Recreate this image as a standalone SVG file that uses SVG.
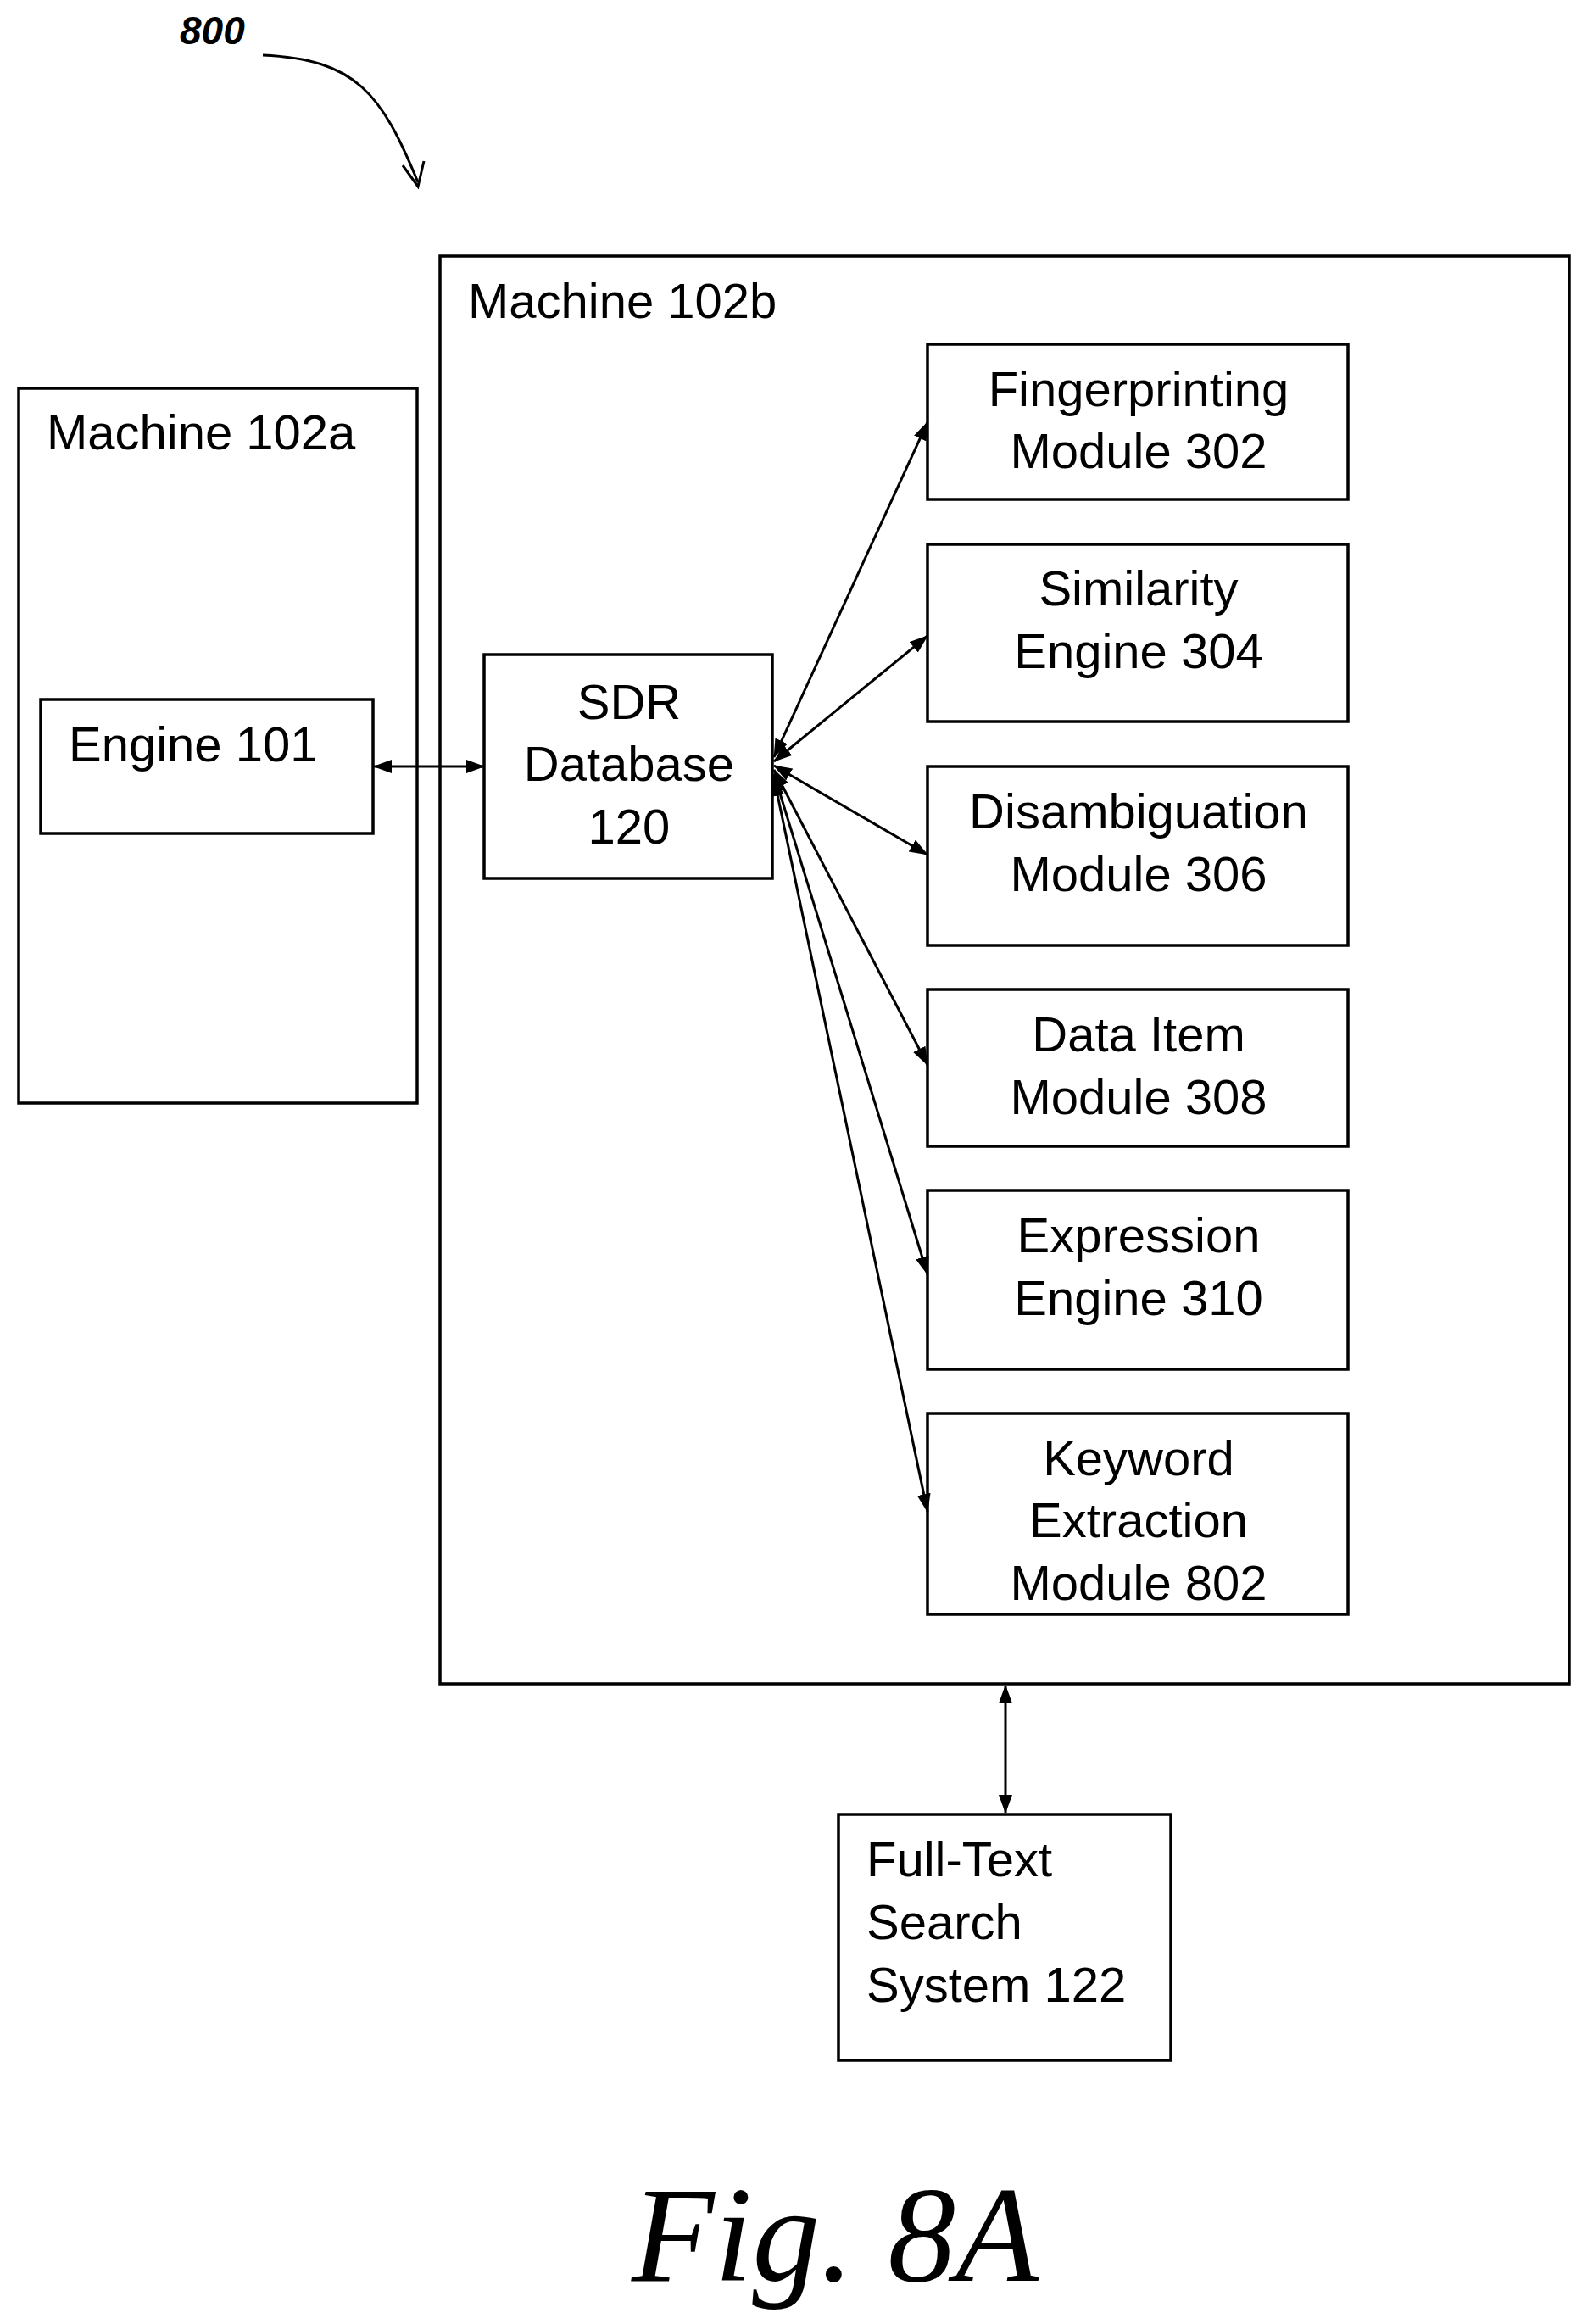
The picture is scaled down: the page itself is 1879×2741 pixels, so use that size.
<svg xmlns="http://www.w3.org/2000/svg" width="1879" height="2741" viewBox="0 0 1879 2741">
<style>
rect{fill:#fff;stroke:#000;stroke-width:3.5}
text{font-family:"Liberation Sans",Arial,sans-serif;font-size:58px;fill:#000}
.c{text-anchor:middle}
#connectors line{stroke:#000;stroke-width:3;marker-start:url(#a);marker-end:url(#a)}
</style>
<defs>
<marker id="a" viewBox="0 0 22 16" refX="21" refY="8" markerWidth="22" markerHeight="16" orient="auto-start-reverse" markerUnits="userSpaceOnUse">
<path d="M0,0 L22,8 L0,16 z" fill="#000"/>
</marker>
</defs>
<rect width="1879" height="2741" style="fill:#fff;stroke:none"/>
<g id="ref800">
<text x="212" y="52" style="font-family:'Liberation Sans',sans-serif;font-weight:bold;font-style:italic;font-size:46px">800</text>
<path d="M310,65 C420,70 450,110 493,215" fill="none" stroke="#000" stroke-width="3"/>
<path d="M475,195 L493,220 L500,190" fill="none" stroke="#000" stroke-width="3"/>
</g>
<g id="machine102b"><rect x="519" y="302" width="1332" height="1684"/><text x="552" y="375">Machine 102b</text></g>
<g id="machine102a"><rect x="22" y="458" width="470" height="843"/><text x="55" y="530">Machine 102a</text></g>
<g id="engine101"><rect x="48" y="825" width="392" height="158"/><text x="81" y="898">Engine 101</text></g>
<g id="sdr"><rect x="571" y="772" width="340" height="264"/><text class="c" x="742" y="848">SDR</text><text class="c" x="742" y="921">Database</text><text class="c" x="742" y="995">120</text></g>
<g id="m302"><rect x="1094" y="406" width="496" height="183"/><text class="c" x="1343" y="479">Fingerprinting</text><text class="c" x="1343" y="552">Module 302</text></g>
<g id="m304"><rect x="1094" y="642" width="496" height="209"/><text class="c" x="1343" y="714">Similarity</text><text class="c" x="1343" y="788">Engine 304</text></g>
<g id="m306"><rect x="1094" y="904" width="496" height="211"/><text class="c" x="1343" y="977">Disambiguation</text><text class="c" x="1343" y="1051">Module 306</text></g>
<g id="m308"><rect x="1094" y="1167" width="496" height="185"/><text class="c" x="1343" y="1240">Data Item</text><text class="c" x="1343" y="1314">Module 308</text></g>
<g id="m310"><rect x="1094" y="1404" width="496" height="211"/><text class="c" x="1343" y="1477">Expression</text><text class="c" x="1343" y="1551">Engine 310</text></g>
<g id="m802"><rect x="1094" y="1667" width="496" height="237"/><text class="c" x="1343" y="1740">Keyword</text><text class="c" x="1343" y="1813">Extraction</text><text class="c" x="1343" y="1887">Module 802</text></g>
<g id="fts"><rect x="989" y="2140" width="392" height="290"/><text x="1022" y="2213">Full-Text</text><text x="1022" y="2287">Search</text><text x="1022" y="2361">System 122</text></g>
<g id="connectors">
<line x1="441" y1="904" x2="571" y2="904"/>
<line x1="913" y1="893" x2="1094" y2="498"/>
<line x1="913" y1="898" x2="1094" y2="750"/>
<line x1="913" y1="903" x2="1094" y2="1008"/>
<line x1="913" y1="908" x2="1094" y2="1256"/>
<line x1="913" y1="913" x2="1094" y2="1503"/>
<line x1="913" y1="918" x2="1094" y2="1783"/>
<line x1="1186" y1="1988" x2="1186" y2="2138"/>
</g>
<text class="c" x="985" y="2690" style="font-family:'Liberation Serif',serif;font-style:italic;font-size:160px">Fig. 8A</text>
</svg>
